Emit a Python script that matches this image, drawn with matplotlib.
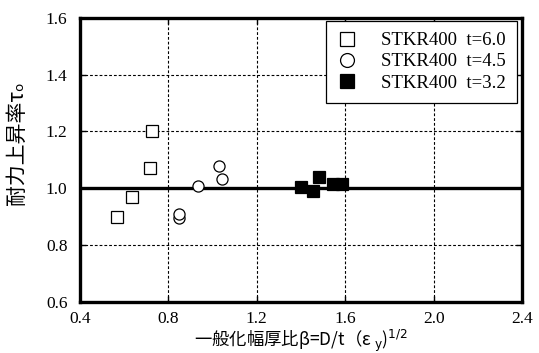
import matplotlib
matplotlib.use("Agg")
import matplotlib.pyplot as plt

# Data
t60_x = [0.566, 0.637, 0.717, 0.728]
t60_y = [0.900, 0.968, 1.070, 1.200]
t45_x = [0.849, 0.849, 0.932, 1.027, 1.043]
t45_y = [0.894, 0.908, 1.008, 1.080, 1.033]
t32_x = [1.401, 1.455, 1.483, 1.543, 1.587]
t32_y = [1.005, 0.990, 1.040, 1.015, 1.015]
series_labels = ["STKR400  t=6.0", "STKR400  t=4.5", "STKR400  t=3.2"]
xticks = [0.4, 0.8, 1.2, 1.6, 2.0, 2.4]
yticks = [0.6, 0.8, 1.0, 1.2, 1.4, 1.6]
ref_line = 1.0

serif = ["Liberation Serif", "Noto Sans CJK JP"]
cjk = ["Noto Sans CJK JP", "DejaVu Sans"]

fig = plt.figure(figsize=(5.39, 3.53), dpi=100)
ax = fig.add_axes([80/539, 1-301.7/353, 442/539, (301.7-18)/353])

ax.set_xlim(xticks[0], xticks[-1])
ax.set_ylim(yticks[0], yticks[-1])
ax.set_xticks(xticks)
ax.set_yticks(yticks)
ax.set_xticklabels([f"{v:.1f}" for v in xticks], family=serif, fontsize=12.5)
ax.set_yticklabels([f"{v:.1f}" for v in yticks], family=serif, fontsize=12.5)
ax.tick_params(direction="in", length=4, width=1, top=True, right=True, colors="black")
ax.tick_params(axis="x", pad=7)
ax.tick_params(axis="y", pad=9)

ax.grid(True, color="black", linestyle=(0, (2.5, 1.8)), linewidth=0.8)
for s in ax.spines.values():
    s.set_linewidth(2.4)
    s.set_color("black")

ax.axhline(ref_line, color="black", linewidth=2.4, zorder=2)

ms = 8
ax.plot(t60_x, t60_y, linestyle="none", marker="s", markersize=ms, markerfacecolor="white",
        markeredgecolor="black", markeredgewidth=0.9, zorder=3, label=series_labels[0])
ax.plot(t45_x, t45_y, linestyle="none", marker="o", markersize=ms, markerfacecolor="white",
        markeredgecolor="black", markeredgewidth=0.9, zorder=3, label=series_labels[1])
ax.plot(t32_x, t32_y, linestyle="none", marker="s", markersize=ms, markerfacecolor="black",
        markeredgecolor="black", markeredgewidth=0.9, zorder=3, label=series_labels[2])

leg = ax.legend(loc="upper right", bbox_to_anchor=(0.988, 0.99), borderaxespad=0,
                prop={"family": serif, "size": 13.5},
                frameon=True, fancybox=False, edgecolor="black", framealpha=1,
                handlelength=1.0, handletextpad=1.3, labelspacing=0.22, borderpad=0.6,
                markerscale=1.25)
leg.get_frame().set_linewidth(0.9)

ax.set_xlabel("一般化幅厚比β=D/t（ε $_{\\rm y}$)$^{1/2}$", family=["Noto Sans CJK JP"], fontsize=12.5)
ax.xaxis.set_label_coords(0.5, -0.09)
ax.set_ylabel("耐力上昇率τₒ", family=cjk, fontsize=15)
ax.yaxis.set_label_coords(-0.118, 0.56)

fig.savefig("out.png", dpi=100)
